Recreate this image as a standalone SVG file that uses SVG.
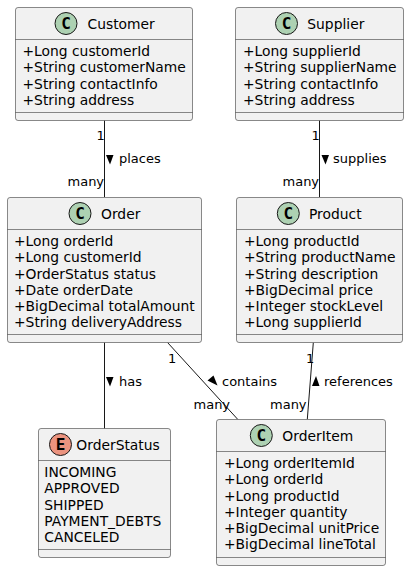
<svg xmlns="http://www.w3.org/2000/svg" width="409" height="571" viewBox="0 0 409 571">
<style>
text{font-family:"DejaVu Sans",sans-serif;font-size:13.85px;fill:#000}
.box{fill:#F1F1F1;stroke:#181818;stroke-width:.5}
.sep{stroke:#181818;stroke-width:.5}
.c{fill:#ADD1B2;stroke:#181818;stroke-width:1}
.e{fill:#EB937F;stroke:#181818;stroke-width:1}
.l{font-size:13px}
text.g{font-family:"DejaVu Sans Mono",monospace;font-weight:bold;font-size:16px;text-anchor:middle}
#connectors line{stroke:#181818;stroke-width:1}
#connectors polygon{fill:#000}
</style>
<rect width="409" height="571" fill="#fff"/>
<g id="connectors">
<line x1="104.5" y1="120.5" x2="104.5" y2="197"/>
<polygon points="106,155 113.5,155 110,164.5"/>
<text class="l" x="119" y="163">places</text>
<text class="l" x="96.5" y="140">1</text>
<text class="l" x="67.5" y="186">many</text>
<line x1="319.5" y1="120.5" x2="319.5" y2="197"/>
<polygon points="321.5,155 329,155 325.5,164.5"/>
<text class="l" x="333" y="163">supplies</text>
<text class="l" x="311.5" y="140">1</text>
<text class="l" x="282.5" y="186">many</text>
<line x1="104.5" y1="342.5" x2="104.5" y2="428.5"/>
<polygon points="106,377 113.5,377 110,386.5"/>
<text class="l" x="119" y="386">has</text>
<line x1="167.7" y1="342.7" x2="237.7" y2="419.3"/>
<polygon points="207.5,380.5 213.5,375.5 217.5,385.5"/>
<text class="l" x="222" y="386">contains</text>
<text class="l" x="168" y="363">1</text>
<text class="l" x="193.5" y="409">many</text>
<line x1="313.3" y1="342.7" x2="307.3" y2="419.3"/>
<polygon points="312,386 319.5,386 316,376"/>
<text class="l" x="324" y="386">references</text>
<text class="l" x="306" y="363">1</text>
<text class="l" x="270" y="409">many</text>
</g>
<g id="Customer">
<rect class="box" x="15.5" y="7.5" width="177" height="113" rx="2.5"/>
<line class="sep" x1="15.5" y1="39.5" x2="192.5" y2="39.5"/>
<line class="sep" x1="15.5" y1="112.5" x2="192.5" y2="112.5"/>
<circle class="c" cx="66" cy="23.5" r="11"/>
<text class="g" x="66" y="29.3">C</text>
<text x="87.5" y="29">Customer</text>
<text x="22.5" y="56">+Long customerId</text>
<text x="22.5" y="72">+String customerName</text>
<text x="22.5" y="89">+String contactInfo</text>
<text x="22.5" y="105">+String address</text>
</g>
<g id="Supplier">
<rect class="box" x="235.5" y="7.5" width="168" height="113" rx="2.5"/>
<line class="sep" x1="235.5" y1="39.5" x2="403.5" y2="39.5"/>
<line class="sep" x1="235.5" y1="112.5" x2="403.5" y2="112.5"/>
<circle class="c" cx="286.5" cy="23.5" r="11"/>
<text class="g" x="286.5" y="29.3">C</text>
<text x="307.3" y="29">Supplier</text>
<text x="243" y="56">+Long supplierId</text>
<text x="243" y="72">+String supplierName</text>
<text x="243" y="89">+String contactInfo</text>
<text x="243" y="105">+String address</text>
</g>
<g id="Order">
<rect class="box" x="7.5" y="197.5" width="194" height="145" rx="2.5"/>
<line class="sep" x1="7.5" y1="229.5" x2="201.5" y2="229.5"/>
<line class="sep" x1="7.5" y1="334.5" x2="201.5" y2="334.5"/>
<circle class="c" cx="80" cy="213.5" r="11"/>
<text class="g" x="80" y="219.3">C</text>
<text x="101" y="219">Order</text>
<text x="14" y="246">+Long orderId</text>
<text x="14" y="262">+Long customerId</text>
<text x="14" y="279">+OrderStatus status</text>
<text x="14" y="295">+Date orderDate</text>
<text x="14" y="311">+BigDecimal totalAmount</text>
<text x="14" y="327">+String deliveryAddress</text>
</g>
<g id="Product">
<rect class="box" x="236.5" y="197.5" width="166" height="145" rx="2.5"/>
<line class="sep" x1="236.5" y1="229.5" x2="402.5" y2="229.5"/>
<line class="sep" x1="236.5" y1="334.5" x2="402.5" y2="334.5"/>
<circle class="c" cx="288.3" cy="213.5" r="11"/>
<text class="g" x="288.3" y="219.3">C</text>
<text x="309" y="219">Product</text>
<text x="244" y="246">+Long productId</text>
<text x="244" y="262">+String productName</text>
<text x="244" y="279">+String description</text>
<text x="244" y="295">+BigDecimal price</text>
<text x="244" y="311">+Integer stockLevel</text>
<text x="244" y="327">+Long supplierId</text>
</g>
<g id="OrderStatus">
<rect class="box" x="38.5" y="428.5" width="132" height="129" rx="2.5"/>
<line class="sep" x1="38.5" y1="460.5" x2="170.5" y2="460.5"/>
<line class="sep" x1="38.5" y1="549.5" x2="170.5" y2="549.5"/>
<circle class="e" cx="60.5" cy="444.5" r="11"/>
<text class="g" x="60.5" y="450.3">E</text>
<text x="76.3" y="450">OrderStatus</text>
<text x="44.3" y="477">INCOMING</text>
<text x="44.3" y="493">APPROVED</text>
<text x="44.3" y="510">SHIPPED</text>
<text x="44.3" y="526">PAYMENT_DEBTS</text>
<text x="44.3" y="542">CANCELED</text>
</g>
<g id="OrderItem">
<rect class="box" x="216.5" y="419.5" width="169" height="146" rx="2.5"/>
<line class="sep" x1="216.5" y1="451.5" x2="385.5" y2="451.5"/>
<line class="sep" x1="216.5" y1="557.5" x2="385.5" y2="557.5"/>
<circle class="c" cx="261.3" cy="435.5" r="11"/>
<text class="g" x="261.3" y="441.3">C</text>
<text x="282.3" y="441">OrderItem</text>
<text x="224" y="468">+Long orderItemId</text>
<text x="224" y="484">+Long orderId</text>
<text x="224" y="501">+Long productId</text>
<text x="224" y="517">+Integer quantity</text>
<text x="224" y="533">+BigDecimal unitPrice</text>
<text x="224" y="549">+BigDecimal lineTotal</text>
</g>
</svg>
